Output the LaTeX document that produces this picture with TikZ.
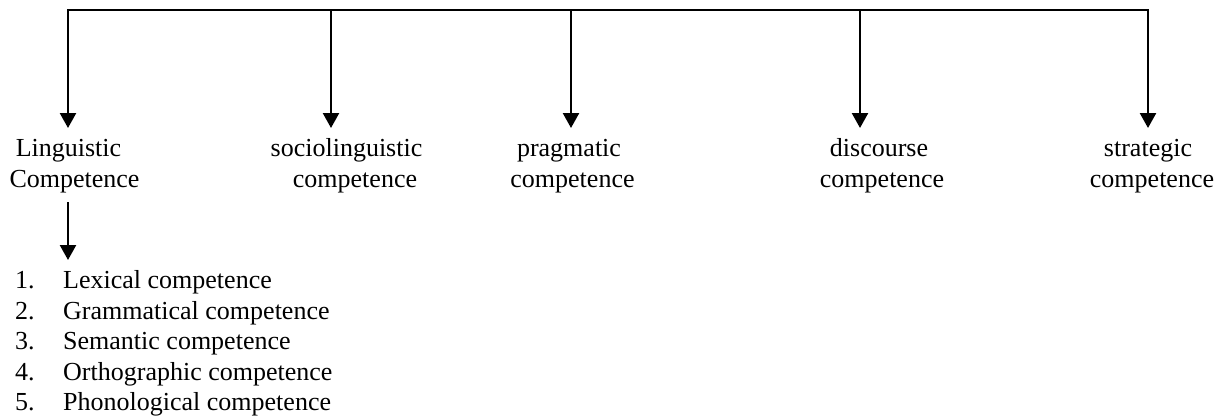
\documentclass[tikz,border=0pt]{standalone}
\usepackage{fontspec}
\setmainfont{Liberation Serif}
\usetikzlibrary{arrows.meta}
\newcommand{\topstrut}{\rule{0pt}{20pt}}
\tikzset{
  conn/.style={line width=2.4pt},
  arr/.style={line width=2.4pt,-{Triangle[length=15pt,width=16pt]}},
  lbl/.style={inner sep=0pt,anchor=north,align=center,font=\fontsize{26pt}{31pt}\selectfont},
  lst/.style={inner sep=0pt,anchor=north west,align=left,font=\fontsize{26pt}{30.5pt}\selectfont}
}
\begin{document}
\begin{tikzpicture}[x=1pt,y=-1pt]
\useasboundingbox (0,0) rectangle (1231,418);
% branch points on the top line
\coordinate (b1) at (68,10);
\coordinate (b2) at (331,10);
\coordinate (b3) at (571,10);
\coordinate (b4) at (860,10);
\coordinate (b5) at (1148,10);
% labels (first baseline at y=156)
\node[lbl] (ling) at (74.5,136) {\topstrut Linguistic\hspace*{12pt}\\Competence};
\node[lbl] (socio) at (355,136) {\topstrut sociolinguistic\hspace*{17pt}\\competence};
\node[lbl] (prag) at (572.5,136) {\topstrut pragmatic\hspace*{7pt}\\competence};
\node[lbl] (disc) at (882,136) {\topstrut discourse\hspace*{6pt}\\competence};
\node[lbl] (strat) at (1152,136) {\topstrut strategic\hspace*{8pt}\\competence};
% list
\node[lst] (list) at (15,270.5) {%
\makebox[48pt][l]{1.}Lexical competence\\
\makebox[48pt][l]{2.}Grammatical competence\\
\makebox[48pt][l]{3.}Semantic competence\\
\makebox[48pt][l]{4.}Orthographic competence\\
\makebox[48pt][l]{5.}Phonological competence};
% connectors
\draw[conn,line cap=rect] (b1) -- (b5);
\draw[arr,shorten >=8pt] (b1) -- (b1 |- ling.north);
\draw[arr,shorten >=8pt] (b2) -- (b2 |- socio.north);
\draw[arr,shorten >=8pt] (b3) -- (b3 |- prag.north);
\draw[arr,shorten >=8pt] (b4) -- (b4 |- disc.north);
\draw[arr,shorten >=8pt] (b5) -- (b5 |- strat.north);
\coordinate (s1) at (68,202);
\draw[arr,shorten >=10.5pt] (s1) -- (s1 |- list.north);
\end{tikzpicture}
\end{document}
